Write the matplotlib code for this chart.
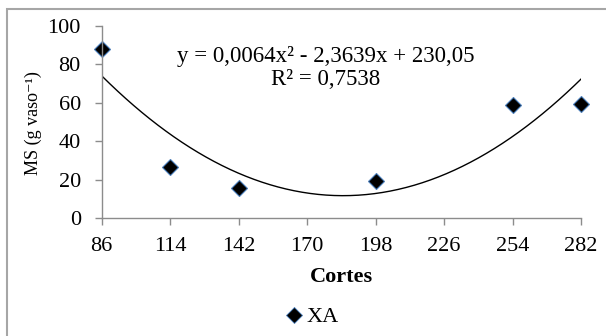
import numpy as np
import matplotlib
matplotlib.use('Agg')
import matplotlib.pyplot as plt
from matplotlib.patches import Rectangle
from matplotlib.lines import Line2D

# dados
cortes = [86, 114, 142, 198, 254, 282]
ms_xa = [88, 26.8, 16, 19.4, 58.8, 59.6]
coef = [0.0064, -2.3639, 230.05]  # linha de tendencia polinomial
x_ticks = [86, 114, 142, 170, 198, 226, 254, 282]
y_ticks = [0, 20, 40, 60, 80, 100]

plt.rcParams['font.family'] = ['Liberation Serif', 'DejaVu Serif']

W, H = 606, 336
fig = plt.figure(figsize=(W / 100, H / 100), dpi=100)

# moldura do grafico
fig.patches.append(Rectangle((6.7 / W, -0.1), 1, 1.1 - 8.7 / H, transform=fig.transFigure,
                             fill=False, edgecolor='#a6a6a6', linewidth=1.5))

ax = fig.add_axes([101.7 / W, 1 - 218.3 / H, (581 - 101.7) / W, (218.3 - 26) / H])

xs = np.linspace(86, 282, 300)
ax.plot(xs, np.polyval(coef, xs), color='black', linewidth=1)
ax.plot(cortes, ms_xa, linestyle='none', marker='D', markersize=8.5,
        markerfacecolor='black', markeredgecolor='#4a7ebb', markeredgewidth=0.8,
        clip_on=False)

ax.set_xlim(86, 282)
ax.set_ylim(0, 100)
ax.set_xticks(x_ticks)
ax.set_yticks(y_ticks)
ax.tick_params(labelsize=16, length=5, width=1, color='#8c8c8c')
ax.tick_params(axis='x', pad=8.5)
ax.tick_params(axis='y', pad=10)
for s in ['top', 'right']:
    ax.spines[s].set_visible(False)
for s in ['left', 'bottom']:
    ax.spines[s].set_color('#8c8c8c')
    ax.spines[s].set_linewidth(1)

fig.text(341 / W, 1 - 282 / H, 'Cortes', fontsize=16, fontweight='bold',
         ha='center', va='baseline')
fig.text(33 / W, 1 - 123 / H, 'MS (g vaso⁻¹)', fontsize=13, rotation=90,
         ha='center', va='center')

fig.text(326 / W, 1 - 61.7 / H, 'y = 0,0064x² - 2,3639x + 230,05', fontsize=16.5,
         ha='center', va='baseline')
fig.text(326 / W, 1 - 85 / H, 'R² = 0,7538', fontsize=16.5, ha='center', va='baseline')

h = Line2D([], [], linestyle='none', marker='D', markersize=8.5,
           markerfacecolor='black', markeredgecolor='#4a7ebb', markeredgewidth=0.6)
fig.legend([h], ['XA'], loc='center', bbox_to_anchor=(313 / W, 1 - 317 / H),
           frameon=False, fontsize=16, handlelength=0.6, handletextpad=0.25)

fig.savefig('out.png', dpi=100)
